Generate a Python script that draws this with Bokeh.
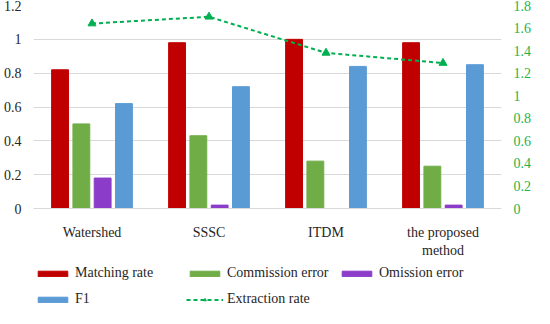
from bokeh.plotting import figure
from bokeh.models import (FactorRange, Range1d, LinearAxis, FixedTicker, Legend,
                          LegendItem, ColumnDataSource)
from bokeh.transform import dodge
from bokeh.layouts import column
from bokeh.embed import file_html
from bokeh.resources import INLINE

cats = ["Watershed", "SSSC", "ITDM", "the proposed\nmethod"]
matching = [0.82, 0.98, 1.00, 0.98]
commission = [0.50, 0.43, 0.28, 0.25]
omission = [0.18, 0.02, 0.0, 0.02]
f1 = [0.62, 0.72, 0.84, 0.85]
extraction = [1.64, 1.70, 1.38, 1.29]

left_ticks = [0, 0.2, 0.4, 0.6, 0.8, 1.0, 1.2]
right_ticks = [0, 0.2, 0.4, 0.6, 0.8, 1.0, 1.2, 1.4, 1.6, 1.8]

src = ColumnDataSource(dict(cat=cats, matching=matching, commission=commission,
                            omission=omission, f1=f1, extraction=extraction))

FONT = "Liberation Serif"
TXT = "#262626"
C_MATCH = "#C00000"
C_COMM = "#70AD47"
C_OMIS = "#8B3CC8"
C_F1 = "#5B9BD5"
C_EXTR = "#00B050"

p = figure(x_range=FactorRange(*cats, range_padding=0), y_range=Range1d(0, 1.2),
           width=534, height=260, output_backend="svg", toolbar_location=None,
           min_border_left=30, min_border_right=32, min_border_top=5, min_border_bottom=0)
p.outline_line_color = None
p.xgrid.grid_line_color = None
p.ygrid.grid_line_color = "#d9d9d9"
p.ygrid.ticker = FixedTicker(ticks=left_ticks)

p.extra_y_ranges = {"right": Range1d(0, 1.8)}

yax = p.yaxis[0]
yax.ticker = FixedTicker(ticks=left_ticks)
yax.major_label_overrides = {t: ("%g" % t) for t in left_ticks}
yax.axis_line_color = None
yax.major_tick_line_color = None
yax.minor_tick_line_color = None
yax.major_label_text_font = FONT
yax.major_label_text_font_size = "14px"
yax.major_label_text_color = TXT
yax.major_label_standoff = 6

rax = LinearAxis(y_range_name="right", ticker=FixedTicker(ticks=right_ticks))
rax.major_label_overrides = {t: ("%g" % t) for t in right_ticks}
rax.axis_line_color = None
rax.major_tick_line_color = None
rax.minor_tick_line_color = None
rax.major_label_text_font = FONT
rax.major_label_text_font_size = "14px"
rax.major_label_text_color = "#1fb34a"
rax.major_label_standoff = 6
p.add_layout(rax, "right")

xax = p.xaxis[0]
xax.axis_line_color = "#d9d9d9"
xax.major_tick_line_color = None
xax.minor_tick_line_color = None
xax.major_label_text_font = FONT
xax.major_label_text_font_size = "14px"
xax.major_label_text_color = TXT
xax.major_label_standoff = 10


def draw_series(fig, yname=None):
    W = 0.144
    extra = {} if yname is None else {"y_range_name": yname}
    r1 = fig.vbar(x=dodge("cat", -0.273, range=fig.x_range), top="matching", width=W,
                  source=src, fill_color=C_MATCH, line_color=C_MATCH)
    r2 = fig.vbar(x=dodge("cat", -0.091, range=fig.x_range), top="commission", width=W,
                  source=src, fill_color=C_COMM, line_color=C_COMM)
    r3 = fig.vbar(x=dodge("cat", 0.091, range=fig.x_range), top="omission", width=W,
                  source=src, fill_color=C_OMIS, line_color=C_OMIS)
    r4 = fig.vbar(x=dodge("cat", 0.273, range=fig.x_range), top="f1", width=W,
                  source=src, fill_color=C_F1, line_color=C_F1)
    r5 = fig.line(x="cat", y="extraction", source=src, line_color=C_EXTR, line_width=2,
                  line_dash="4 3", **extra)
    r6 = fig.scatter(x="cat", y="extraction", source=src, marker="triangle", size=8,
                     fill_color=C_EXTR, line_color=C_EXTR, **extra)
    return r1, r2, r3, r4, r5, r6


draw_series(p, "right")

# ---- legend strip: a second figure whose view range lies far above the data,
# so its renderers only serve as legend swatches
lf = figure(width=534, height=48, output_backend="svg", toolbar_location=None,
            x_range=p.x_range, y_range=Range1d(100, 101),
            x_axis_location=None, y_axis_location=None,
            min_border=0, min_border_left=0, min_border_right=0,
            min_border_top=0, min_border_bottom=0)
lf.outline_line_color = None
lf.xgrid.visible = False
lf.ygrid.visible = False
l1, l2, l3, l4, l5, l6 = draw_series(lf)


def make_legend(items, loc):
    lg = Legend(items=items, orientation="horizontal", location=loc)
    lg.glyph_width = 37
    lg.glyph_height = 7
    lg.label_standoff = 4
    lg.label_width = 107
    lg.label_height = 18
    lg.spacing = 4
    lg.margin = 0
    lg.padding = 0
    lg.border_line_color = None
    lg.background_fill_alpha = 0
    lg.label_text_font = FONT
    lg.label_text_font_size = "14px"
    lg.label_text_color = TXT
    return lg


leg1 = make_legend([
    LegendItem(label="Matching rate", renderers=[l1]),
    LegendItem(label="Commission error", renderers=[l2]),
    LegendItem(label="Omission error", renderers=[l3]),
], (1, 26))
leg2 = make_legend([
    LegendItem(label="F1", renderers=[l4]),
    LegendItem(label="Extraction rate", renderers=[l5, l6]),
], (1, 0))
lf.add_layout(leg1, "center")
lf.add_layout(leg2, "center")

open("out.html", "w").write(file_html(column(p, lf, spacing=0), INLINE))
